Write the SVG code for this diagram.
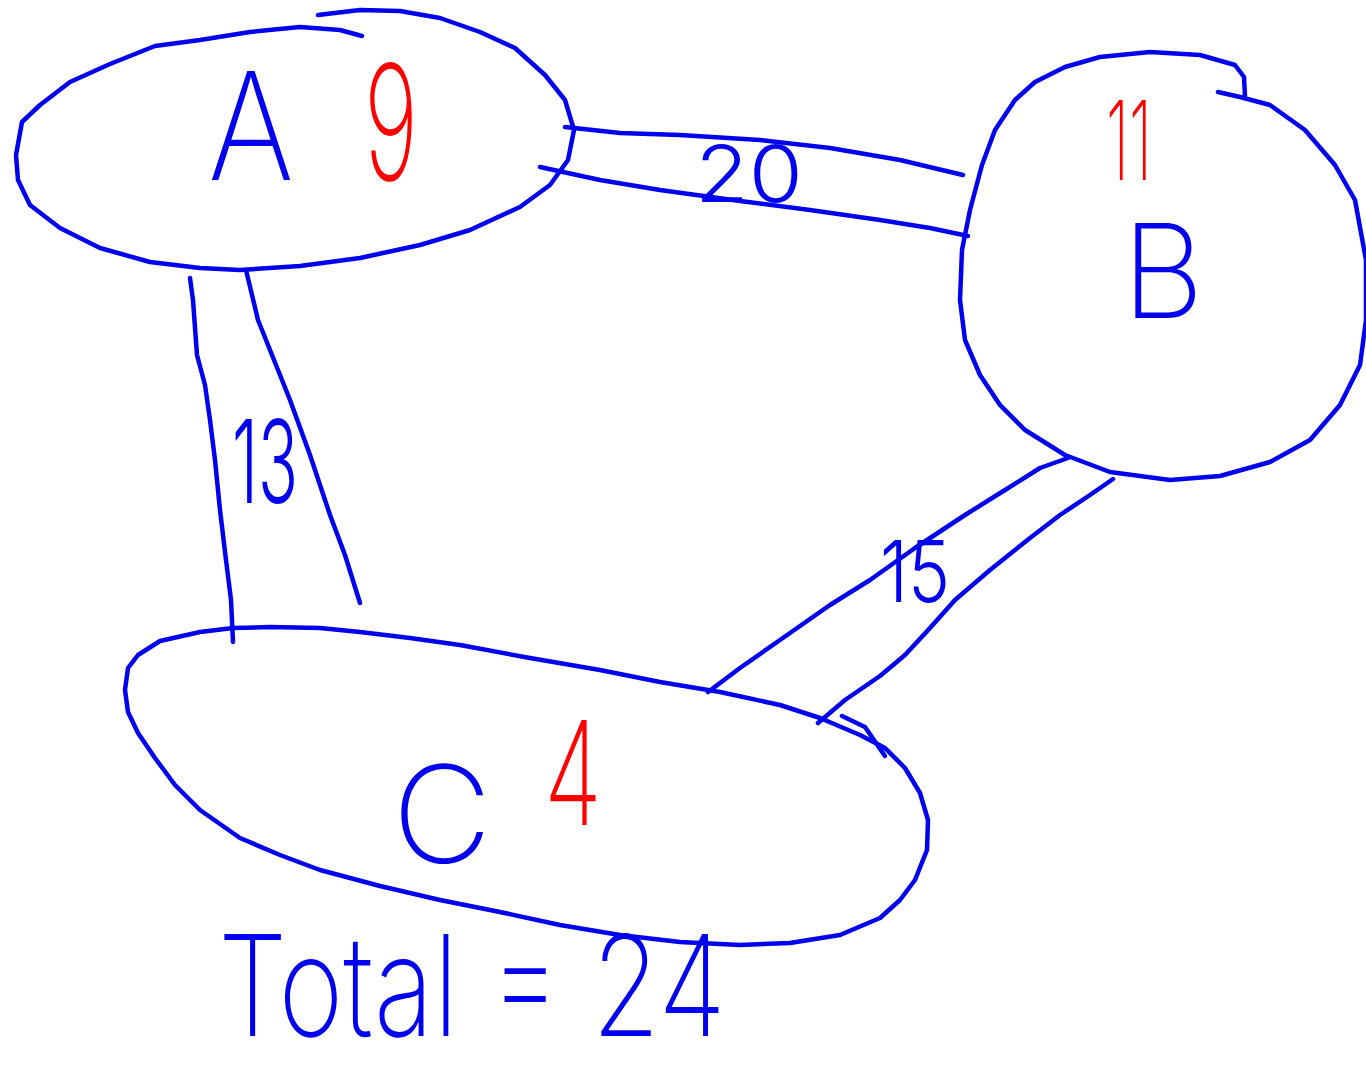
<svg xmlns="http://www.w3.org/2000/svg" width="1366" height="1082" viewBox="0 0 1366 1082">
<style>
.s{fill:none;stroke:#0000ee;stroke-width:4.5;stroke-linecap:round;stroke-linejoin:round}
.b{fill:#0000ee;font-family:Inter,"Liberation Sans",Arial,sans-serif;font-weight:200}
.r{fill:#ff0000;font-family:Inter,"Liberation Sans",Arial,sans-serif;font-weight:200}
.sm{font-weight:300}
</style>
<rect width="1366" height="1082" fill="#ffffff"/>
<g id="connectors">
<path class="s" d="M565,127 L620,133 L680,135 L760,140 L830,148 L900,160 L963,175"/>
<path class="s" d="M540,167 L600,180 L660,190 L740,201 L810,210 L880,220 L930,228 L968,236"/>
<text class="b sm" x="695" y="202" font-size="78" textLength="108" lengthAdjust="spacingAndGlyphs">20</text>
<path class="s" d="M190,278 L193,300 L197,355 L205,385 L210,420 L215,460 L220,510 L226,560 L231,600 L233,642"/>
<path class="s" d="M246,270 L252,295 L258,320 L270,350 L290,400 L310,455 L330,515 L345,555 L360,603"/>
<text class="b sm" x="232" y="503" font-size="115" textLength="66" lengthAdjust="spacingAndGlyphs">13</text>
<path class="s" d="M1068,458 L1040,468 L1005,490 L965,515 L915,548 L870,580 L830,605 L780,640 L740,668 L708,692"/>
<path class="s" d="M1113,479 L1090,495 L1060,515 L1030,538 L990,570 L955,600 L930,628 L905,655 L880,676 L845,700 L818,723"/>
<text class="b sm" x="880" y="602" font-size="85" textLength="70" lengthAdjust="spacingAndGlyphs">15</text>
</g>
<g id="node-A">
<path class="s" d="M318,15 L360,10 L400,11 L440,18 L480,32 L515,48 L545,75 L565,100 L574,130 L568,160 L550,185 L520,207 L470,230 L420,245 L360,258 L300,266 L240,270 L200,268 L150,262 L100,248 L60,228 L30,205 L18,180 L16,155 L22,122 L40,105 L70,82 L110,64 L155,46 L200,40 L250,32 L300,27 L340,30 L362,36"/>
<text class="b" x="208" y="180" font-size="150" textLength="86" lengthAdjust="spacingAndGlyphs">A</text>
<text class="r" x="364" y="180" font-size="160" textLength="54" lengthAdjust="spacingAndGlyphs">9</text>
</g>
<g id="node-B">
<path class="s" d="M1245,97 L1244,77 L1235,65 L1200,55 L1150,52 L1100,57 L1065,67 L1035,82 L1015,100 L995,130 L982,165 L970,210 L962,250 L960,300 L965,340 L980,375 L1000,405 L1025,430 L1065,455 L1110,472 L1170,480 L1220,476 L1270,462 L1310,440 L1340,405 L1360,365 L1366,320 L1366,260 L1355,200 L1335,165 L1305,130 L1270,105 L1240,97 L1218,92"/>
<text class="r" x="1106" y="180" font-size="110" textLength="46" lengthAdjust="spacingAndGlyphs">11</text>
<text class="b" x="1122" y="318" font-size="130" textLength="82" lengthAdjust="spacingAndGlyphs">B</text>
</g>
<g id="node-C">
<path class="s" d="M233,628 L270,627 L320,628 L360,632 L410,638 L460,645 L530,658 L600,670 L660,682 L720,692 L780,705 L820,718 L860,735 L885,748 L905,768 L920,793 L928,820 L927,850 L915,880 L900,900 L880,918 L840,935 L790,943 L740,945 L680,942 L620,935 L560,925 L500,912 L440,900 L380,886 L320,870 L280,855 L240,838 L200,810 L175,785 L155,758 L138,733 L128,712 L125,690 L128,668 L138,655 L160,641 L200,632 L233,628"/>
<path class="s" d="M842,716 L865,727 L885,756"/>
<text class="b" x="392" y="863" font-size="135" textLength="100" lengthAdjust="spacingAndGlyphs">C</text>
<text class="r" x="544" y="825" font-size="145" textLength="58" lengthAdjust="spacingAndGlyphs">4</text>
</g>
<g id="total">
<text class="b" x="218" y="1036" font-size="140" textLength="508" lengthAdjust="spacingAndGlyphs">Total = 24</text>
</g>
</svg>
